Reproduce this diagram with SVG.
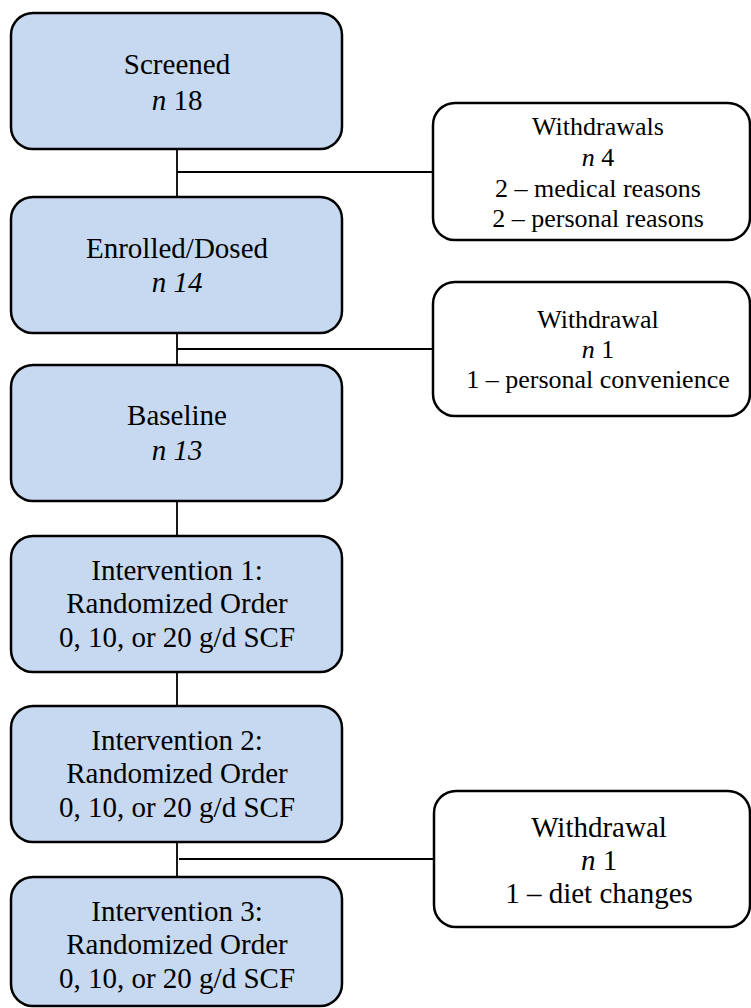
<svg xmlns="http://www.w3.org/2000/svg" width="751" height="1008" viewBox="0 0 751 1008">
<style>
.main{fill:#C6D9F1;stroke:#000;stroke-width:2.5}
.side{fill:#fff;stroke:#000;stroke-width:2.5}
.t{font-family:"Liberation Serif","Times New Roman",serif;fill:#000;text-anchor:middle}
.m{font-size:29px}
.s{font-size:26px}
.l{font-size:29px}
.i{font-style:italic}
.c{stroke:#000;stroke-width:1.8;fill:none}
</style>
<rect width="751" height="1008" fill="#fff"/>
<g id="connectors">
<line class="c" x1="177" y1="149" x2="177" y2="197"/>
<line class="c" x1="177" y1="172" x2="433" y2="172"/>
<line class="c" x1="177" y1="333" x2="177" y2="365"/>
<line class="c" x1="177" y1="349" x2="433" y2="349"/>
<line class="c" x1="177" y1="501" x2="177" y2="536"/>
<line class="c" x1="177" y1="672" x2="177" y2="706"/>
<line class="c" x1="177" y1="842" x2="177" y2="877"/>
<line class="c" x1="179" y1="859" x2="434" y2="859"/>
</g>
<g id="screened">
<rect class="main" x="11" y="13" width="331" height="136" rx="22"/>
<text class="t m" x="177" y="74">Screened</text>
<text class="t m" x="177" y="110"><tspan class="i">n</tspan> 18</text>
</g>
<g id="withdrawals1">
<rect class="side" x="433" y="103" width="317" height="137" rx="22"/>
<text class="t s" x="598" y="135">Withdrawals</text>
<text class="t s" x="598" y="166"><tspan class="i">n</tspan> 4</text>
<text class="t s" x="598" y="197">2 – medical reasons</text>
<text class="t s" x="598" y="227">2 – personal reasons</text>
</g>
<g id="enrolled">
<rect class="main" x="11" y="197" width="331" height="136" rx="22"/>
<text class="t m" x="177" y="258">Enrolled/Dosed</text>
<text class="t m i" x="177" y="292">n 14</text>
</g>
<g id="withdrawal2">
<rect class="side" x="433" y="282" width="317" height="134" rx="22"/>
<text class="t s" x="598" y="328">Withdrawal</text>
<text class="t s" x="598" y="358"><tspan class="i">n</tspan> 1</text>
<text class="t s" x="598" y="388">1 – personal convenience</text>
</g>
<g id="baseline">
<rect class="main" x="11" y="365" width="331" height="136" rx="22"/>
<text class="t m" x="177" y="425">Baseline</text>
<text class="t m i" x="177" y="460">n 13</text>
</g>
<g id="intervention1">
<rect class="main" x="11" y="536" width="331" height="136" rx="22"/>
<text class="t m" x="177" y="580">Intervention 1:</text>
<text class="t m" x="177" y="613">Randomized Order</text>
<text class="t m" x="177" y="647">0, 10, or 20 g/d SCF</text>
</g>
<g id="intervention2">
<rect class="main" x="11" y="706" width="331" height="136" rx="22"/>
<text class="t m" x="177" y="750">Intervention 2:</text>
<text class="t m" x="177" y="783">Randomized Order</text>
<text class="t m" x="177" y="817">0, 10, or 20 g/d SCF</text>
</g>
<g id="withdrawal3">
<rect class="side" x="434" y="791" width="316" height="136" rx="22"/>
<text class="t l" x="599" y="837">Withdrawal</text>
<text class="t l" x="599" y="870"><tspan class="i">n</tspan> 1</text>
<text class="t l" x="599" y="903">1 – diet changes</text>
</g>
<g id="intervention3">
<rect class="main" x="11" y="877" width="331" height="129" rx="22"/>
<text class="t m" x="177" y="921">Intervention 3:</text>
<text class="t m" x="177" y="954">Randomized Order</text>
<text class="t m" x="177" y="988">0, 10, or 20 g/d SCF</text>
</g>
</svg>
